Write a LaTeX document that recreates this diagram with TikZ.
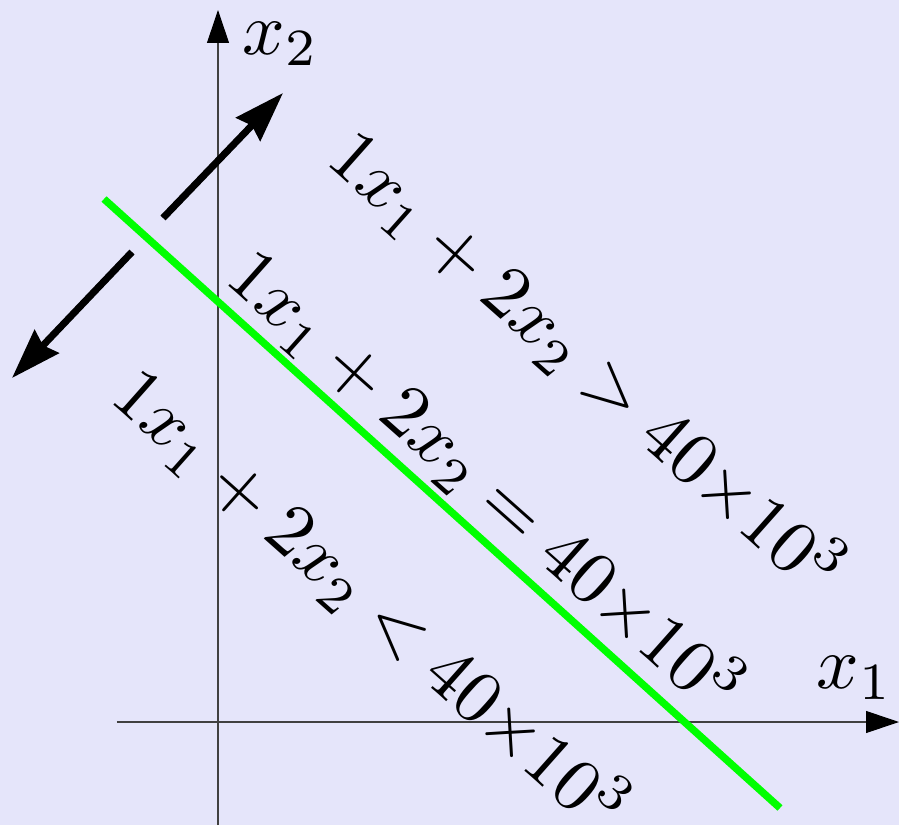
\documentclass[tikz,border=0pt]{standalone}
\usepackage{xcolor}
\definecolor{lavbg}{RGB}{229,229,250}
\definecolor{axisgray}{HTML}{404040}
\definecolor{bndgreen}{HTML}{00FF00}
\usepackage{amsmath}
\usepackage{tikz}
\usetikzlibrary{arrows.meta}
\tikzset{axis/.style={draw=axisgray,line width=0.6pt,-{Triangle[length=6.6mm,width=4.4mm,color=black]}},lbl/.style={scale=4.25,inner sep=0pt},ineq/.style={scale=4.25,inner sep=0pt,rotate=-41.6}}
\begin{document}
\begin{tikzpicture}[dir/.style={line width=4pt,-{Stealth[length=10mm,width=6.6mm,inset=1mm]}},bound/.style={draw=bndgreen,line width=4.2pt}]
\fill[lavbg] (-4.36,-2.06) rectangle (13.62,14.44);
\useasboundingbox (-4.36,-2.06) rectangle (13.62,14.44);
\coordinate (xs) at (-2.02,0);\coordinate (xe) at (13.62,0);
\coordinate (ys) at (0,-2.06);\coordinate (ye) at (0,14.24);
\draw[axis] (xs)--(xe);\draw[axis] (ys)--(ye);
\node[lbl] (xone) at (12.74,0.88) {$x_1$};
\node[lbl] (xtwo) at (1.26,13.56) {$x_2$};
\coordinate (la) at (-2.28,10.46);\coordinate (lb) at (11.24,-1.72);
\draw[bound] (la)--(lb);
\coordinate (ua) at (-1.10,10.08);\coordinate (ub) at (1.30,12.58);
\coordinate (da) at (-1.72,9.40);\coordinate (db) at (-4.12,6.88);
\draw[dir] (ua)--(ub);\draw[dir] (da)--(db);
\node[ineq] (gt) at (7.38,7.18) {$1x_1+2x_2>40{\times}10^3$};
\node[ineq] (eq) at (5.36,4.80) {$1x_1+2x_2=40{\times}10^3$};
\node[ineq] (lt) at (3.06,2.42) {$1x_1+2x_2<40{\times}10^3$};
\end{tikzpicture}
\end{document}
